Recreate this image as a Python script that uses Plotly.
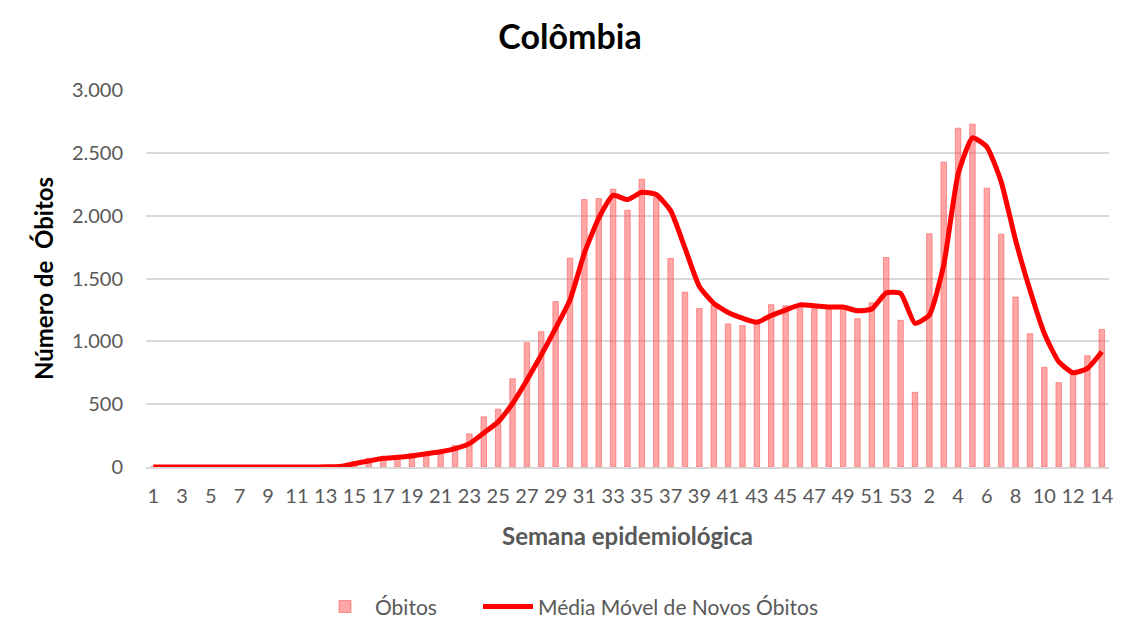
import plotly.graph_objects as go

# semanas epidemiológicas: 2020 (1-53) e 2021 (1-14)
semanas = [1, 2, 3, 4, 5, 6, 7, 8, 9, 10, 11, 12, 13, 14, 15, 16, 17, 18, 19, 20,
           21, 22, 23, 24, 25, 26, 27, 28, 29, 30, 31, 32, 33, 34, 35, 36, 37, 38, 39, 40,
           41, 42, 43, 44, 45, 46, 47, 48, 49, 50, 51, 52, 53,
           1, 2, 3, 4, 5, 6, 7, 8, 9, 10, 11, 12, 13, 14]

obitos = [0, 0, 0, 0, 0, 0, 0, 0, 0, 0, 0, 0, 2, 10, 45, 70, 62, 65, 110, 95,
          110, 170, 263, 399, 460, 702, 989, 1077, 1316, 1662, 2128, 2136, 2210, 2043, 2290, 2150, 1660, 1391, 1261, 1290,
          1138, 1125, 1150, 1292, 1283, 1285, 1262, 1254, 1262, 1180, 1307, 1667, 1167,
          594, 1856, 2426, 2696, 2728, 2219, 1853, 1352, 1060, 793, 671, 745, 885, 1095]

media_movel = [0, 0, 0, 0, 0, 0, 0, 0, 0, 0, 0, 0, 2, 5, 27, 48, 69, 77, 88, 106,
               122, 146, 186, 271, 359, 505, 691, 891, 1104, 1330, 1702, 1981, 2162, 2128, 2186, 2168, 2040, 1742, 1436, 1303,
               1229, 1184, 1152, 1205, 1249, 1290, 1283, 1273, 1273, 1243, 1257, 1386, 1381,
               1143, 1209, 1607, 2330, 2619, 2548, 2269, 1805, 1408, 1063, 838, 750, 785, 917]

y_ticks = [0, 500, 1000, 1500, 2000, 2500, 3000]

pos = list(range(1, len(semanas) + 1))
tick_pos = pos[::2]
tick_txt = [str(s) for s in semanas[::2]]

fig = go.Figure()
fig.add_trace(go.Bar(x=pos, y=obitos, name='Óbitos', legend='legend',
                     marker=dict(color='rgba(255,80,80,0.5)',
                                 line=dict(color='rgba(255,90,90,0.6)', width=1))))
fig.add_trace(go.Scatter(x=pos, y=media_movel, mode='lines', name='Média Móvel de Novos Óbitos',
                         legend='legend2',
                         line=dict(color='#ff0000', width=5, shape='spline', smoothing=0.5)))

leg = dict(orientation='h', xanchor='left', xref='container', y=0.031, yanchor='middle',
           yref='container', font=dict(size=21, color='#595959'), itemwidth=50,
           bgcolor='rgba(0,0,0,0)')

# a página tem 8px de margem no body, por isso a figura é 8px menor
fig.update_layout(
    width=1114, height=618,
    paper_bgcolor='white', plot_bgcolor='white',
    font=dict(family='Lato, Open Sans, sans-serif', color='#595959', size=20),
    separators=',.',
    bargap=0.62,
    margin=dict(l=138, r=8, t=82, b=159),
    title=dict(text='<b>Colômbia</b>', x=0.5045, xanchor='center', y=0.953, yanchor='middle',
               font=dict(size=34, color='black')),
    legend=dict(leg, x=307 / 1114),
    legend2=dict(leg, x=470 / 1114),
    showlegend=True,
)
fig.update_xaxes(range=[0.5, len(pos) + 0.5], tickvals=tick_pos, ticktext=tick_txt,
                 showgrid=False, showline=True, linecolor='#d9d9d9', linewidth=1.5,
                 ticks='', tickfont=dict(size=20, color='#595959'), ticklabelstandoff=10,
                 title=dict(text='<b>Semana epidemiológica</b>', font=dict(size=24, color='#595959'), standoff=22))
fig.update_yaxes(range=[0, 3000], tickvals=y_ticks, tickformat=',d',
                 showgrid=True, gridcolor='#d9d9d9', gridwidth=1.5, zeroline=False,
                 tickfont=dict(size=20, color='#595959'), ticks='', ticklabelstandoff=22,
                 title=dict(text='<b>Número de  Óbitos</b>', font=dict(size=24, color='black'), standoff=11))

fig.write_html("out.html")
